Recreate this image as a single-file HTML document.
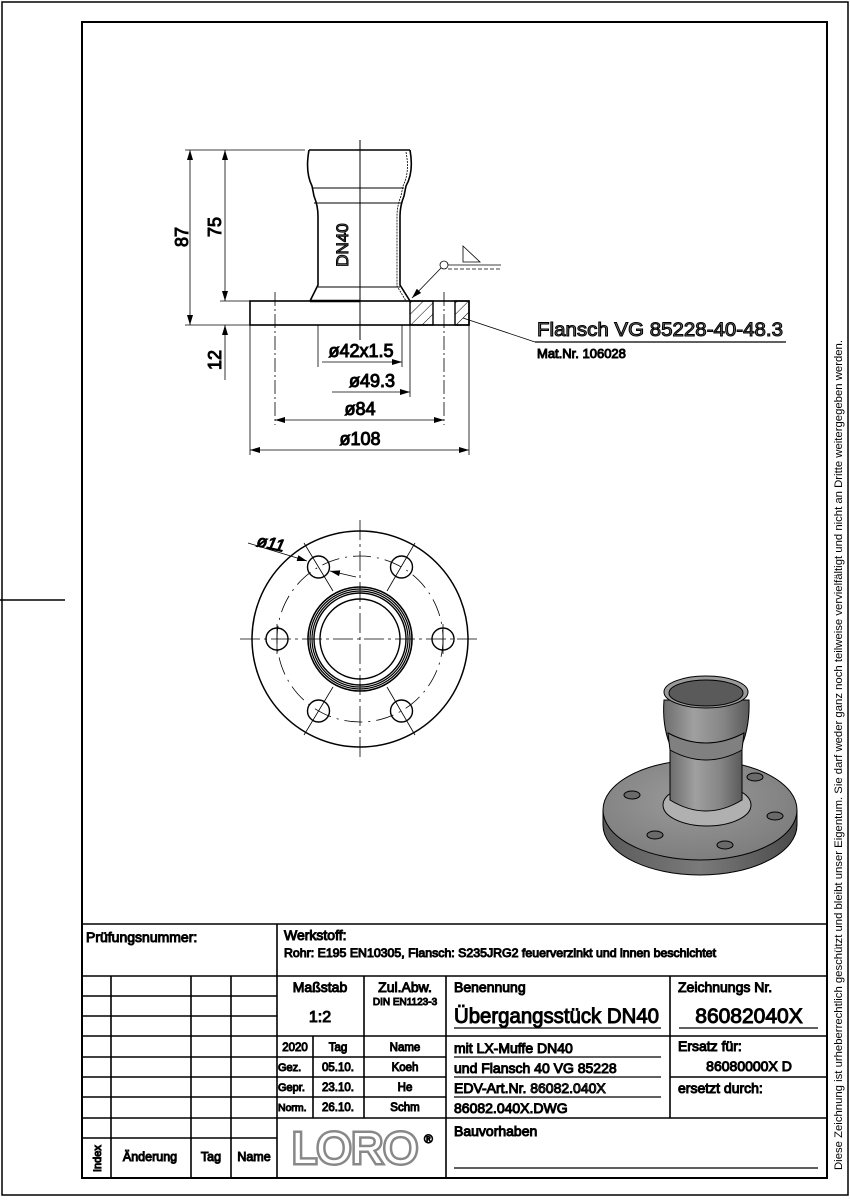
<!DOCTYPE html>
<html><head><meta charset="utf-8"><style>
html,body{margin:0;padding:0;background:#fff}
svg{display:block}
text{font-family:"Liberation Sans",sans-serif;font-weight:normal}
</style></head><body>
<svg width="850" height="1200" viewBox="0 0 850 1200" xmlns="http://www.w3.org/2000/svg">
<defs>
<marker id="ar" viewBox="0 0 10 6" refX="10" refY="3" markerWidth="10" markerHeight="6" orient="auto-start-reverse" markerUnits="userSpaceOnUse"><path d="M0,0 L10,3 L0,6 Z" fill="#000"/></marker>
<pattern id="hat" width="8" height="8" patternUnits="userSpaceOnUse" patternTransform="rotate(45)"><line x1="0" y1="0" x2="0" y2="8" stroke="#000" stroke-width="1"/></pattern>
<linearGradient id="g1" x1="0" x2="1"><stop offset="0" stop-color="#6d6d6d"/><stop offset="0.35" stop-color="#a0a0a0"/><stop offset="0.7" stop-color="#858585"/><stop offset="1" stop-color="#5a5a5a"/></linearGradient>
<linearGradient id="g2" x1="0" x2="1"><stop offset="0" stop-color="#5a5a5a"/><stop offset="0.5" stop-color="#7a7a7a"/><stop offset="1" stop-color="#4a4a4a"/></linearGradient>
<radialGradient id="g3" cx="0.45" cy="0.4" r="0.6"><stop offset="0" stop-color="#9a9a9a"/><stop offset="1" stop-color="#7e7e7e"/></radialGradient>
</defs>
<rect x="2" y="2" width="846" height="1193" fill="none" stroke="#000" stroke-width="1.5"/>
<rect x="82" y="22" width="745" height="1156" fill="none" stroke="#000" stroke-width="2"/>
<line x1="0" y1="600" x2="65" y2="600" stroke="#000" stroke-width="1.5"/>
<text transform="translate(842,1170) rotate(-90)" font-size="11" fill="#000" textLength="830" lengthAdjust="spacingAndGlyphs">Diese Zeichnung ist urheberrechtlich geschützt und bleibt unser Eigentum. Sie darf weder ganz noch teilweise vervielfältigt und nicht an Dritte weitergegeben werden.</text>

<g fill="none" stroke="#000">
<line x1="360" y1="140" x2="360" y2="340" stroke-width="1"/>
<rect x="250" y="301" width="219" height="24" stroke-width="1.6"/>
<rect x="410" y="301" width="23" height="24" fill="url(#hat)" stroke-width="1.4"/>
<rect x="455" y="301" width="14" height="24" fill="url(#hat)" stroke-width="1.4"/>
<path d="M309,150 Q305,172 312,186 L314,196 Q318,206 318,216 L318,285 L310,301" stroke-width="1.6"/>
<path d="M410,150 Q414,172 406,186 L404,196 Q400,206 400,216 L400,285 L410,301" stroke-width="1.6"/>
<path d="M406,152 Q410,172 403,186 L401,196 Q397,206 397,216 L397,286 L406,301" stroke-width="0.8" stroke-dasharray="2,1"/>
<line x1="309" y1="150" x2="410" y2="150" stroke-width="1.6"/>
<line x1="312" y1="188" x2="404" y2="188" stroke-width="1"/>
<line x1="314" y1="203" x2="401" y2="203" stroke-width="1"/>
<line x1="318" y1="287" x2="400" y2="287" stroke-width="1"/>
<line x1="310" y1="301" x2="360" y2="301" stroke-width="2.5"/>
<g stroke-width="0.8" stroke-dasharray="14,3,2,3">
<line x1="275" y1="292" x2="275" y2="425"/>
<line x1="444" y1="292" x2="444" y2="425"/>
</g>
<g stroke-width="0.8">
<line x1="185" y1="150" x2="305" y2="150"/>
<line x1="185" y1="325" x2="250" y2="325"/>
<line x1="220" y1="301" x2="250" y2="301"/>
<line x1="190" y1="150" x2="190" y2="325" marker-start="url(#ar)" marker-end="url(#ar)"/>
<line x1="225" y1="150" x2="225" y2="301" marker-start="url(#ar)" marker-end="url(#ar)"/>
<line x1="225" y1="325" x2="225" y2="380" marker-start="url(#ar)"/>
<line x1="318" y1="325" x2="318" y2="367"/>
<line x1="402" y1="325" x2="402" y2="367"/>
<line x1="410" y1="325" x2="410" y2="397"/>
<line x1="250" y1="325" x2="250" y2="455"/>
<line x1="469" y1="325" x2="469" y2="455"/>
<line x1="322" y1="362" x2="402" y2="362" marker-end="url(#ar)"/>
<line x1="332" y1="392" x2="410" y2="392" marker-end="url(#ar)"/>
<line x1="275" y1="420" x2="444" y2="420" marker-start="url(#ar)" marker-end="url(#ar)"/>
<line x1="250" y1="450" x2="469" y2="450" marker-start="url(#ar)" marker-end="url(#ar)"/>
<circle cx="444" cy="265" r="4"/>
<line x1="441" y1="268" x2="412" y2="298" marker-end="url(#ar)"/>
<line x1="448" y1="265" x2="501" y2="265"/>
<line x1="448" y1="269" x2="501" y2="269" stroke-dasharray="4,2"/>
<path d="M463,246 L463,262 L480,262 Z"/>
<line x1="463" y1="318" x2="535" y2="342"/>
<line x1="535" y1="342" x2="786" y2="342" stroke-width="1.2"/>
</g>
<g fill="#000">
<text transform="translate(188,237) rotate(-90)" font-size="18" text-anchor="middle">87</text>
<text transform="translate(221,227) rotate(-90)" font-size="18" text-anchor="middle">75</text>
<text transform="translate(221,360) rotate(-90)" font-size="18" text-anchor="middle">12</text>
<text transform="translate(348,245) rotate(-90)" font-size="17" text-anchor="middle" fill="#888">DN40</text>
<text x="361" y="357" font-size="18" text-anchor="middle">ø42x1.5</text>
<text x="372" y="387" font-size="18" text-anchor="middle">ø49.3</text>
<text x="360" y="415" font-size="18" text-anchor="middle">ø84</text>
<text x="360" y="445" font-size="18" text-anchor="middle">ø108</text>
<text x="537" y="336" font-size="19" fill="#777" textLength="246" lengthAdjust="spacingAndGlyphs">Flansch VG 85228-40-48.3</text>
<text x="537" y="358" font-size="13">Mat.Nr. 106028</text>
</g>

<g fill="none" stroke="#000">
<circle cx="360" cy="639" r="108" stroke-width="1.5"/>
<circle cx="360" cy="639" r="83" stroke-width="0.8" stroke-dasharray="18,6,2,6"/>
<circle cx="360" cy="639" r="52" stroke-width="1.6"/>
<circle cx="360" cy="639" r="50" stroke-width="1.2"/>
<circle cx="360" cy="639" r="48" stroke-width="1.2"/>
<circle cx="360" cy="639" r="46" stroke-width="1.4"/>
<circle cx="360" cy="639" r="40" stroke-width="1.4"/>
<line x1="360" y1="520" x2="360" y2="760" stroke-width="0.8" stroke-dasharray="20,4,3,4"/>
<line x1="240" y1="639" x2="480" y2="639" stroke-width="0.8" stroke-dasharray="20,4,3,4"/>
<g stroke-width="1.4">
<circle cx="443" cy="639" r="11"/><circle cx="277" cy="639" r="11"/>
<circle cx="401.5" cy="567" r="11"/><circle cx="318.5" cy="567" r="11"/>
<circle cx="401.5" cy="711" r="11"/><circle cx="318.5" cy="711" r="11"/>
</g>
<g stroke-width="0.8">
<line x1="304" y1="543" x2="333" y2="591"/><line x1="415" y1="543" x2="387" y2="591"/>
<line x1="304" y1="735" x2="333" y2="687"/><line x1="415" y1="735" x2="387" y2="687"/>
<line x1="443" y1="624" x2="443" y2="654"/><line x1="277" y1="624" x2="277" y2="654"/>
<line x1="248" y1="543" x2="307" y2="561" marker-end="url(#ar)"/>
<line x1="356" y1="577" x2="330" y2="571" marker-end="url(#ar)"/>
</g>
</g>
<text transform="translate(256,546) rotate(12)" font-size="17" font-style="italic" fill="#000">ø11</text>

<g>
<path d="M603,810 L603,825 A97,50 0 0 0 797,825 L797,810 Z" fill="url(#g2)"/>
<ellipse cx="700" cy="810" rx="97" ry="50" fill="url(#g3)"/>
<ellipse cx="707" cy="805" rx="44" ry="21" fill="#b0b0b0"/>
<ellipse cx="632" cy="795" rx="8" ry="4" fill="#6a6a6a"/>
<ellipse cx="655" cy="835" rx="8" ry="4" fill="#6a6a6a"/>
<ellipse cx="725" cy="845" rx="8" ry="4" fill="#6a6a6a"/>
<ellipse cx="775" cy="816" rx="8" ry="4" fill="#6a6a6a"/>
<ellipse cx="755" cy="777" rx="8" ry="4" fill="#6a6a6a"/>
<path d="M670,750 L670,800 Q706,822 742,800 L742,750 Z" fill="url(#g1)"/>
<path d="M664,700 Q662,725 670,745 L742,745 Q750,725 749,700 Z" fill="url(#g1)"/>
<path d="M668,733 Q706,753 744,733 L742,750 Q706,770 670,750 Z" fill="#808080"/>
<ellipse cx="706" cy="692" rx="42" ry="16" fill="#9a9a9a"/>
<ellipse cx="706" cy="693" rx="37" ry="13" fill="#5a5a5a"/>
</g>

<g fill="none" stroke="#000" stroke-width="1.6">
<line x1="82" y1="924" x2="827" y2="924"/>
<line x1="82" y1="976" x2="827" y2="976"/>
<line x1="277" y1="924" x2="277" y2="1178"/>
<line x1="111" y1="976" x2="111" y2="1178"/>
<line x1="191" y1="976" x2="191" y2="1178"/>
<line x1="231" y1="976" x2="231" y2="1178"/>
<line x1="82" y1="996" x2="277" y2="996"/>
<line x1="82" y1="1016" x2="277" y2="1016"/>
<line x1="82" y1="1036" x2="670" y2="1036"/>
<line x1="82" y1="1057" x2="446" y2="1057"/>
<line x1="82" y1="1077" x2="446" y2="1077"/>
<line x1="82" y1="1097" x2="446" y2="1097"/>
<line x1="82" y1="1118" x2="827" y2="1118"/>
<line x1="82" y1="1138" x2="277" y2="1138"/>
<line x1="364" y1="976" x2="364" y2="1118"/>
<line x1="313" y1="1036" x2="313" y2="1118"/>
<line x1="446" y1="976" x2="446" y2="1178"/>
<line x1="670" y1="976" x2="670" y2="1118"/>
<line x1="670" y1="1036" x2="827" y2="1036"/>
<line x1="670" y1="1077" x2="827" y2="1077"/>
<g stroke-width="1.3">
<line x1="454" y1="1028" x2="661" y2="1028"/>
<line x1="679" y1="1028" x2="818" y2="1028"/>
<line x1="454" y1="1057" x2="661" y2="1057"/>
<line x1="454" y1="1077" x2="661" y2="1077"/>
<line x1="454" y1="1097" x2="661" y2="1097"/>
<line x1="454" y1="1168" x2="818" y2="1168"/>
</g>
</g>
<g font-size="13" fill="#000">
<text x="86" y="942" font-size="14">Prüfungsnummer:</text>
<text x="284" y="940" font-size="14">Werkstoff:</text>
<text x="284" y="957" font-size="12" textLength="432" lengthAdjust="spacingAndGlyphs">Rohr: E195 EN10305, Flansch: S235JRG2 feuerverzinkt und innen beschichtet</text>
<text x="320" y="992" font-size="14" text-anchor="middle">Maßstab</text>
<text x="320" y="1022" font-size="16" text-anchor="middle">1:2</text>
<text x="405" y="992" font-size="14" text-anchor="middle">Zul.Abw.</text>
<text x="405" y="1005" font-size="10" text-anchor="middle">DIN EN1123-3</text>
<text x="454" y="992" font-size="14">Benennung</text>
<text x="454" y="1023" font-size="21" textLength="205" lengthAdjust="spacingAndGlyphs">Übergangsstück DN40</text>
<text x="678" y="992" font-size="14">Zeichnungs Nr.</text>
<text x="749" y="1023" font-size="21" text-anchor="middle">86082040X</text>
<text x="295" y="1051" font-size="11.5" text-anchor="middle">2020</text>
<text x="338" y="1051" font-size="11.5" text-anchor="middle">Tag</text>
<text x="405" y="1051" font-size="11.5" text-anchor="middle">Name</text>
<text x="278" y="1071" font-size="11">Gez.</text>
<text x="338" y="1071" font-size="11.5" text-anchor="middle">05.10.</text>
<text x="405" y="1071" font-size="11.5" text-anchor="middle">Koeh</text>
<text x="278" y="1091" font-size="11">Gepr.</text>
<text x="338" y="1091" font-size="11.5" text-anchor="middle">23.10.</text>
<text x="405" y="1091" font-size="11.5" text-anchor="middle">He</text>
<text x="278" y="1111" font-size="10.5">Norm.</text>
<text x="338" y="1111" font-size="11.5" text-anchor="middle">26.10.</text>
<text x="405" y="1111" font-size="11.5" text-anchor="middle">Schm</text>
<text x="454" y="1053" font-size="14">mit LX-Muffe DN40</text>
<text x="454" y="1073" font-size="14">und Flansch 40 VG 85228</text>
<text x="454" y="1093" font-size="14">EDV-Art.Nr. <tspan fill="#888">86082.040X</tspan></text>
<text x="454" y="1113" font-size="14">86082.040X.DWG</text>
<text x="678" y="1051" font-size="14">Ersatz für:</text>
<text x="749" y="1071" font-size="14" text-anchor="middle">86080000X D</text>
<text x="678" y="1093" font-size="14">ersetzt durch:</text>
<text x="454" y="1136" font-size="14">Bauvorhaben</text>
<text transform="translate(101,1172) rotate(-90)" font-size="11">Index</text>
<text x="150" y="1161" font-size="12.5" text-anchor="middle">Änderung</text>
<text x="211" y="1161" font-size="12.5" text-anchor="middle">Tag</text>
<text x="254" y="1161" font-size="12.5" text-anchor="middle">Name</text>
</g>
<text x="355" y="1163" font-size="44" font-weight="bold" text-anchor="middle" fill="#fff" stroke="#888" stroke-width="5" style="paint-order:stroke" textLength="126" lengthAdjust="spacingAndGlyphs">LORO</text>
<text x="424" y="1143" font-size="12" fill="#888">®</text>
</svg>
</body></html>
